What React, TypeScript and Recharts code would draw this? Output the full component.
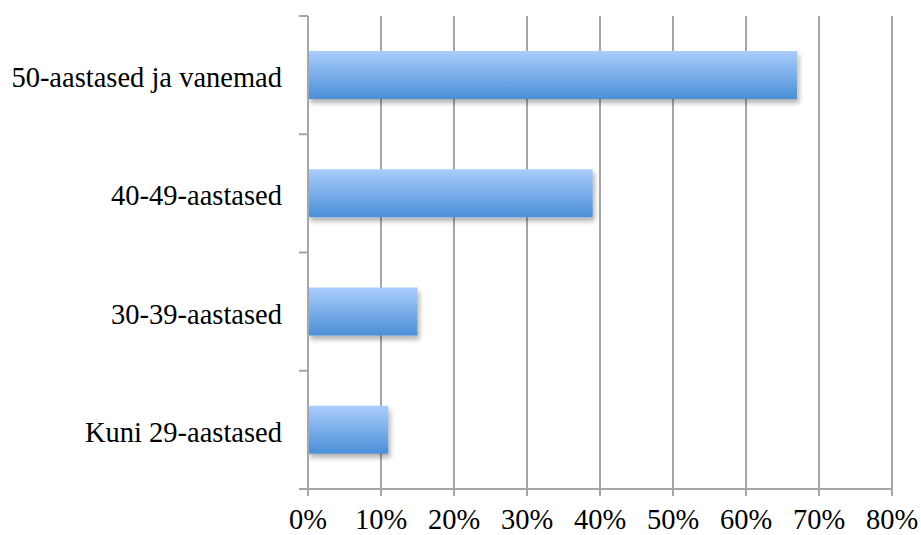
import { BarChart, Bar, XAxis, YAxis, CartesianGrid } from 'recharts';

const ageGroups = ['50-aastased ja vanemad', '40-49-aastased', '30-39-aastased', 'Kuni 29-aastased'];
const shares = [67, 39, 15, 11];
const percentTicks = [0, 10, 20, 30, 40, 50, 60, 70, 80];

const data = ageGroups.map((group, i) => ({ group, share: shares[i] }));

const font = '"Liberation Serif", "DejaVu Serif", serif';
const fontSize = 28.5;
const grey = '#a6a6a6';
const catTickSize = 9;
const catTickMargin = 17;

// category label, plus Excel-style tick marks on the band edges
function CategoryTick(props: any) {
  const { x, y, payload, index, visibleTicksCount } = props;
  const axisX = x + catTickSize + catTickMargin;
  const half = payload.offset ?? 0;
  const isLast = index === visibleTicksCount - 1;
  return (
    <g>
      <line x1={axisX - catTickSize} x2={axisX} y1={y - half} y2={y - half} stroke={grey} strokeWidth={2} />
      {isLast && (
        <line x1={axisX - catTickSize} x2={axisX} y1={y + half} y2={y + half} stroke={grey} strokeWidth={2} />
      )}
      <text x={x} y={y + 2} dy="0.355em" textAnchor="end" fill="#000" fontSize={fontSize} fontFamily={font}>
        {payload.value}
      </text>
    </g>
  );
}

export default function App() {
  return (
    <div style={{ position: 'absolute', left: 0, top: 0, background: '#fff' }}>
      <BarChart
        width={921}
        height={535}
        data={data}
        layout="vertical"
        margin={{ top: 16, right: 29, bottom: 0, left: 0 }}
      >
        <defs>
          <linearGradient id="barFill" x1="0" y1="0" x2="0" y2="1">
            <stop offset="0%" stopColor="#aacdfb" />
            <stop offset="100%" stopColor="#4a8fd8" />
          </linearGradient>
          <filter id="barShadow" x="-10%" y="-20%" width="130%" height="160%">
            <feDropShadow dx="2" dy="4" stdDeviation="2.5" floodColor="#000" floodOpacity="0.3" />
          </filter>
        </defs>
        <CartesianGrid horizontal={false} stroke={grey} strokeWidth={2} />
        <XAxis
          type="number"
          domain={[0, 80]}
          ticks={percentTicks}
          tickFormatter={(v: number) => `${v}%`}
          height={46}
          stroke={grey}
          strokeWidth={2}
          tickSize={7}
          tickMargin={13}
          tick={{ fill: '#000', fontSize, fontFamily: font }}
          interval={0}
        />
        <YAxis
          type="category"
          dataKey="group"
          width={308}
          stroke={grey}
          strokeWidth={2}
          tickLine={false}
          tickSize={catTickSize}
          tickMargin={catTickMargin}
          tick={<CategoryTick />}
          interval={0}
        />
        <Bar
          dataKey="share"
          fill="url(#barFill)"
          barSize={48}
          filter="url(#barShadow)"
          isAnimationActive={false}
        />
      </BarChart>
    </div>
  );
}
